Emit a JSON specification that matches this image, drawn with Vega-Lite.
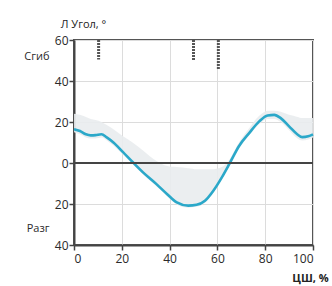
{
  "$schema": "https://vega.github.io/schema/vega-lite/v6.json",
  "width": 239,
  "height": 205,
  "autosize": {"type": "none"},
  "padding": {"left": 74, "top": 40, "right": 19, "bottom": 41},
  "background": "white",
  "config": {
    "view": {"stroke": "#555", "strokeWidth": 2},
    "font": "Open Sans",
    "axis": {
      "labelFont": "Open Sans", "labelFontSize": 12, "labelColor": "#2a2a2a",
      "titleFont": "Open Sans", "titleFontSize": 11, "titleColor": "#222", "titleFontWeight": "normal",
      "domainColor": "#444", "domainWidth": 2, "tickColor": "#444", "tickWidth": 1.5, "tickSize": 5,
      "gridColor": "#dcdcdc", "gridWidth": 1
    }
  },
  "datasets": {
    "curve": [
      {"pct": 0, "mean": 16.5, "lo": 15, "hi": 24},
      {"pct": 2.5, "mean": 15.6, "lo": 14, "hi": 23.5},
      {"pct": 5, "mean": 14, "lo": 12.5, "hi": 22.5},
      {"pct": 7, "mean": 13.5, "lo": 12, "hi": 21.5},
      {"pct": 9, "mean": 13.6, "lo": 12, "hi": 21},
      {"pct": 11.5, "mean": 14, "lo": 12.5, "hi": 20},
      {"pct": 13.7, "mean": 12.5, "lo": 11, "hi": 18.5},
      {"pct": 16.5, "mean": 10, "lo": 8.5, "hi": 16.5},
      {"pct": 20.5, "mean": 5.3, "lo": 4, "hi": 13},
      {"pct": 24.5, "mean": 0.5, "lo": -0.5, "hi": 10},
      {"pct": 29, "mean": -4.7, "lo": -5.7, "hi": 6},
      {"pct": 34.5, "mean": -10.3, "lo": -11.3, "hi": 1},
      {"pct": 39, "mean": -15.2, "lo": -16.2, "hi": -1.5},
      {"pct": 43, "mean": -19.2, "lo": -20.2, "hi": -2},
      {"pct": 47.8, "mean": -20.8, "lo": -21.8, "hi": -2.5},
      {"pct": 51.3, "mean": -20.4, "lo": -21.4, "hi": -3},
      {"pct": 54.8, "mean": -18.4, "lo": -19.4, "hi": -3},
      {"pct": 58.3, "mean": -13.5, "lo": -14.5, "hi": -3},
      {"pct": 61.8, "mean": -7.1, "lo": -8, "hi": -2},
      {"pct": 65.2, "mean": 0, "lo": -1, "hi": 2},
      {"pct": 69, "mean": 8.2, "lo": 7, "hi": 10},
      {"pct": 73.3, "mean": 14.6, "lo": 13.5, "hi": 17},
      {"pct": 77.5, "mean": 20.3, "lo": 19, "hi": 23},
      {"pct": 81, "mean": 23.2, "lo": 21.5, "hi": 25.5},
      {"pct": 83.8, "mean": 23.5, "lo": 21.5, "hi": 25.5},
      {"pct": 86.5, "mean": 21.9, "lo": 20, "hi": 25},
      {"pct": 90, "mean": 17.9, "lo": 16, "hi": 23.5},
      {"pct": 93.5, "mean": 13.9, "lo": 12, "hi": 22.5},
      {"pct": 95.5, "mean": 12.6, "lo": 11, "hi": 22},
      {"pct": 98, "mean": 13, "lo": 11.5, "hi": 22},
      {"pct": 100, "mean": 14, "lo": 12.5, "hi": 22}
    ],
    "events": [
      {"pct": 10.3, "top": 60, "end": 50.5},
      {"pct": 50, "top": 60, "end": 50},
      {"pct": 60.4, "top": 60, "end": 45.5}
    ],
    "zero": [{"v": 0}]
  },
  "resolve": {"axis": {"y": "independent"}},
  "layer": [
    {
      "data": {"name": "curve"},
      "mark": {"type": "area", "color": "#e9ecee", "opacity": 0.9, "interpolate": "monotone"},
      "encoding": {
        "x": {
          "field": "pct", "type": "quantitative",
          "scale": {"domain": [0, 100], "nice": false},
          "axis": {
            "values": [0, 20, 40, 60, 80, 100], "grid": true, "labelDx": 3, "labelPadding": 3,
            "title": "ЦШ, %", "titleAnchor": "start", "titleX": 236, "titleY": 33, "titleAlign": "center",
            "titleBaseline": "middle", "titleFontSize": 11, "titleFontWeight": "bold"
          }
        },
        "y": {
          "field": "lo", "type": "quantitative",
          "scale": {"domain": [-40, 60], "nice": false},
          "axis": {
            "orient": "left",
            "values": [60, 40, 20, 0, -20, -40], "grid": true, "labelExpr": "abs(datum.value)",
            "labelPadding": 1,
            "title": "Л Угол, °", "titleAngle": 0, "titleX": 9, "titleY": -16,
            "titleAlign": "center", "titleBaseline": "middle", "titleFontSize": 11
          }
        },
        "y2": {"field": "hi"}
      }
    },
    {
      "data": {"name": "curve"},
      "mark": {"type": "line", "color": "#2ba8c9", "strokeWidth": 2.6, "interpolate": "monotone"},
      "encoding": {
        "x": {"field": "pct", "type": "quantitative"},
        "y": {
          "field": "mean", "type": "quantitative",
          "axis": {
            "orient": "left",
            "values": [52, -32], "labelExpr": "datum.value > 0 ? 'Сгиб' : 'Разг'",
            "grid": false, "domain": false, "ticks": false, "offset": 25, "labelPadding": 0,
            "labelFontSize": 11, "labelColor": "#2a2a2a", "title": null
          }
        }
      }
    },
    {
      "data": {"name": "zero"},
      "mark": {"type": "rule", "color": "#444", "strokeWidth": 2.2},
      "encoding": {"y": {"field": "v", "type": "quantitative", "axis": null}}
    },
    {
      "data": {"name": "events"},
      "mark": {"type": "rule", "color": "#555", "strokeWidth": 3, "strokeDash": [2, 1]},
      "encoding": {
        "x": {"field": "pct", "type": "quantitative"},
        "y": {"field": "top", "type": "quantitative", "axis": null},
        "y2": {"field": "end"}
      }
    }
  ]
}
